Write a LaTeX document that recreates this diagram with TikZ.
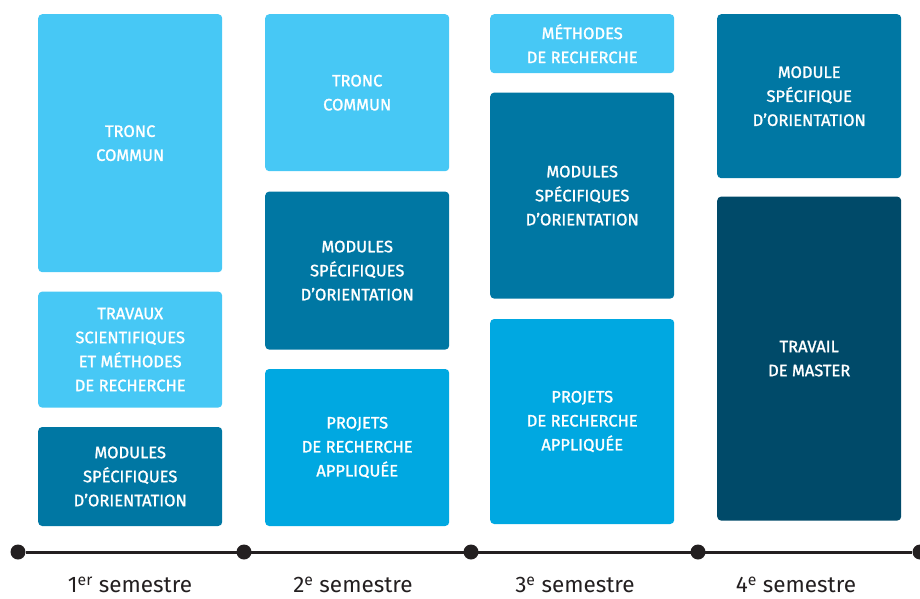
\documentclass[tikz,border=0pt]{standalone}
\usepackage{fontspec}
\setmainfont{Fira Sans}
\newfontfamily\boxfont{Fira Sans}[FakeBold=1.4]
\usetikzlibrary{positioning}
\definecolor{paleblue}{HTML}{47C8F5}
\definecolor{skyblue}{HTML}{00A8E1}
\definecolor{tealblue}{HTML}{0077A3}
\definecolor{navyblue}{HTML}{004A69}
\definecolor{inkgrey}{HTML}{231F20}

\begin{document}
\begin{tikzpicture}[x=1pt, y=-1pt, node distance=19pt,
	box/.style={rectangle, rounded corners=4pt, text=white, minimum width=184pt, inner sep=0pt, align=center, font=\boxfont\fontsize{16.5}{24}\selectfont},
	dot/.style={circle, fill=inkgrey, minimum size=15pt, inner sep=0pt},
	sem/.style={text=inkgrey, font=\fontsize{22.5}{26}\selectfont}]
	\useasboundingbox (0,0) rectangle (920,599);
	% first semester
	\node[box, fill=paleblue, minimum height=258pt, anchor=north west] (tronc1) at (38,14) {TRONC\\COMMUN};
	\node[box, fill=paleblue, minimum height=116pt, below=of tronc1] (travaux1) {TRAVAUX\\SCIENTIFIQUES\\ET MÉTHODES\\DE RECHERCHE};
	\node[box, fill=tealblue, minimum height=99pt, below=of travaux1] (modules1) {MODULES\\SPÉCIFIQUES\\D’ORIENTATION};
	% second semester
	\node[box, fill=paleblue, minimum height=157pt, anchor=north west] (tronc2) at (265,14) {TRONC\\COMMUN};
	\node[box, fill=tealblue, minimum height=158pt, below=20pt of tronc2] (modules2) {MODULES\\SPÉCIFIQUES\\D’ORIENTATION};
	\node[box, fill=skyblue, minimum height=157pt, below=of modules2] (projets2) {PROJETS\\DE RECHERCHE\\APPLIQUÉE};
	% third semester
	\node[box, fill=paleblue, minimum height=59pt, anchor=north west] (methodes3) at (490,14) {MÉTHODES\\DE RECHERCHE};
	\node[box, fill=tealblue, minimum height=206pt, below=of methodes3] (modules3) {MODULES\\SPÉCIFIQUES\\D’ORIENTATION};
	\node[box, fill=skyblue, minimum height=205pt, below=20pt of modules3] (projets3) {PROJETS\\DE RECHERCHE\\APPLIQUÉE};
	% fourth semester
	\node[box, fill=tealblue, minimum height=164pt, anchor=north west] (module4) at (717,14) {MODULE\\SPÉCIFIQUE\\D’ORIENTATION};
	\node[box, fill=navyblue, minimum height=324pt, below=18pt of module4] (master4) {TRAVAIL\\DE MASTER};
	% timeline
	\foreach \i/\x in {0/18, 1/244, 2/471, 3/698, 4/920}
		\node[dot] (t\i) at (\x,552) {};
	\draw[inkgrey, line width=3pt] (t0) -- (t4);
	\node[sem] (sem1) at (130,585) {1\textsuperscript{er} semestre};
	\node[sem] (sem2) at (353,585) {2\textsuperscript{e} semestre};
	\node[sem] (sem3) at (575,585) {3\textsuperscript{e} semestre};
	\node[sem] (sem4) at (796,585) {4\textsuperscript{e} semestre};
\end{tikzpicture}
\end{document}
